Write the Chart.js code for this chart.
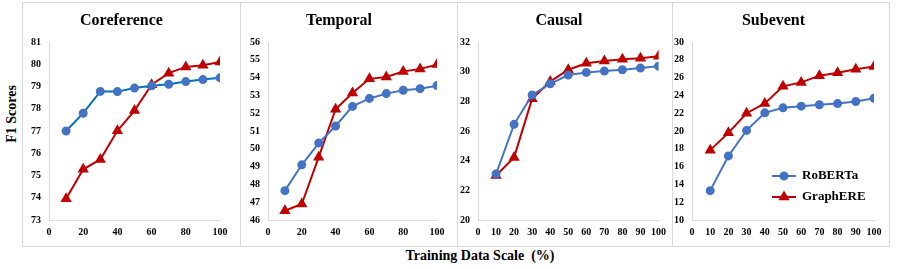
<!DOCTYPE html>
<html>
<head>
<meta charset="utf-8">
<script src="https://cdn.jsdelivr.net/npm/chart.js@4.4.1/dist/chart.umd.min.js"></script>
<style>
  body { margin: 0; background: #fff; width: 899px; height: 269px; position: relative; overflow: hidden; font-family: "Liberation Serif", "Times New Roman", serif; }
  .panel { position: absolute; top: 2px; height: 245px; border: 1px solid #d9d9d9; box-sizing: border-box; }
  .panel canvas { display: block; }
  #ytitle { position: absolute; left: 12px; top: 114px; transform: translate(-50%, -50%) rotate(-90deg); font-weight: bold; font-size: 14px; white-space: nowrap; }
  #xtitle { position: absolute; left: 480px; top: 256px; transform: translate(-50%, -50%); font-weight: bold; font-size: 14px; white-space: pre; }
</style>
</head>
<body>
<div id="ytitle">F1 Scores</div>
<div id="xtitle">Training Data Scale  (%)</div>

<div class="panel" style="left:22px;width:219px"><canvas id="c0"></canvas></div>
<div class="panel" style="left:240px;width:218px"><canvas id="c1"></canvas></div>
<div class="panel" style="left:457px;width:216px"><canvas id="c2"></canvas></div>
<div class="panel" style="left:672px;width:218px"><canvas id="c3"></canvas></div>

<script>
// training data scale (%)
const scales = [10, 20, 30, 40, 50, 60, 70, 80, 90, 100];
const seriesNames = ["RoBERTa", "GraphERE"];
const taskNames = ["Coreference", "Temporal", "Causal", "Subevent"];

// F1 per task
const corefRoberta = [77.0, 77.8, 78.78, 78.77, 78.93, 79.03, 79.1, 79.22, 79.31, 79.39];
const corefGraph   = [73.95, 75.28, 75.72, 77.01, 77.92, 79.08, 79.6, 79.88, 79.96, 80.1];
const tempRoberta  = [47.65, 49.1, 50.32, 51.28, 52.38, 52.83, 53.1, 53.29, 53.38, 53.55];
const tempGraph    = [46.52, 46.9, 49.53, 52.22, 53.13, 53.93, 54.03, 54.34, 54.49, 54.73];
const causRoberta  = [23.1, 26.45, 28.43, 29.18, 29.77, 29.95, 30.04, 30.13, 30.24, 30.37];
const causGraph    = [23.0, 24.22, 28.18, 29.33, 30.13, 30.57, 30.72, 30.84, 30.91, 31.04];
const subRoberta   = [13.3, 17.2, 20.07, 22.04, 22.6, 22.79, 22.95, 23.08, 23.31, 23.68];
const subGraph     = [17.85, 19.79, 22.0, 23.1, 25.02, 25.46, 26.22, 26.54, 26.95, 27.25];

// y tick ranges
const yMins  = [73, 46, 20, 10];
const yMaxs  = [81, 56, 32, 30];
const ySteps = [1, 1, 2, 2];

const robertaData = [corefRoberta, tempRoberta, causRoberta, subRoberta];
const graphData = [corefGraph, tempGraph, causGraph, subGraph];

// layout per panel (px)
const canvasW = [217, 216, 214, 216];
const axisW = [26, 27, 20, 19];
const padRight = [20, 20, 12, 15];

const FONT = '"Liberation Serif", "Times New Roman", serif';
const BLUE = "#4472C4";
const RED = "#C00000";

Chart.defaults.font.family = FONT;

const toPoints = (arr) => arr.map((v, i) => ({ x: scales[i], y: v }));

const legendPlugin = {
  id: "insideLegend",
  afterDraw(chart) {
    const ctx = chart.ctx;
    const a = chart.chartArea;
    const x0 = a.left + 80, x1 = a.left + 104;
    const rows = [a.top + 134, a.top + 155];
    chart.data.datasets.forEach((ds, i) => {
      const y = rows[i];
      ctx.save();
      ctx.strokeStyle = ds.borderColor;
      ctx.lineWidth = 2;
      ctx.beginPath();
      ctx.moveTo(x0, y);
      ctx.lineTo(x1, y);
      ctx.stroke();
      ctx.fillStyle = ds.pointBackgroundColor;
      ctx.strokeStyle = ds.pointBorderColor;
      Chart.helpers.drawPoint(ctx, { pointStyle: ds.pointStyle, radius: ds.pointRadius, borderWidth: 1, rotation: 0 }, (x0 + x1) / 2, y);
      ctx.fillStyle = "#000";
      ctx.font = "bold 13px " + FONT;
      ctx.textBaseline = "middle";
      ctx.textAlign = "left";
      ctx.fillText(ds.label, x1 + 6, y);
      ctx.restore();
    });
  }
};

function drawAll() {
  taskNames.forEach((name, k) => {
    const cv = document.getElementById("c" + k);
    cv.width = canvasW[k];
    cv.height = 243;
    cv.style.width = canvasW[k] + "px";
    cv.style.height = "243px";

    new Chart(cv.getContext("2d"), {
      type: "line",
      data: {
        datasets: [
          {
            label: seriesNames[0],
            data: toPoints(robertaData[k]),
            borderColor: k === 0 ? "#0070C0" : BLUE,
            backgroundColor: BLUE,
            pointBackgroundColor: BLUE,
            pointBorderColor: BLUE,
            pointStyle: "circle",
            pointRadius: 3.5,
            borderWidth: 2,
          },
          {
            label: seriesNames[1],
            data: toPoints(graphData[k]),
            borderColor: RED,
            backgroundColor: RED,
            pointBackgroundColor: RED,
            pointBorderColor: RED,
            pointStyle: "triangle",
            pointRadius: 4.5,
            borderWidth: 2,
          },
        ],
      },
      options: {
        responsive: false,
        animation: false,
        devicePixelRatio: 1,
        layout: { padding: { left: 0, right: padRight[k], top: 0, bottom: 0 } },
        plugins: {
          legend: { display: false },
          tooltip: { enabled: false },
          title: {
            display: true,
            text: name,
            color: "#000",
            font: { family: FONT, size: 16, weight: "bold", lineHeight: 1.2 },
            padding: { top: 8, bottom: 11.8 },
          },
        },
        scales: {
          x: {
            type: "linear",
            min: 0,
            max: 100,
            ticks: { stepSize: 10, color: "#000", font: { family: FONT, size: 10, weight: "bold" }, padding: 6, maxRotation: 0 },
            grid: { display: false, drawTicks: false },
            border: { display: true, color: "#d9d9d9", width: 1 },
            afterFit: (s) => { s.height = 26; },
          },
          y: {
            min: yMins[k],
            max: yMaxs[k],
            ticks: { stepSize: ySteps[k], color: "#000", font: { family: FONT, size: 10, weight: "bold" }, padding: 8 },
            grid: { display: false, drawTicks: false },
            border: { display: true, color: "#d9d9d9", width: 1 },
            afterFit: (s) => { s.width = axisW[k]; },
          },
        },
      },
      plugins: k === 3 ? [legendPlugin] : [],
    });
  });
}

// make sure the serif face is ready before the canvases use it
document.fonts.load('bold 16px "Liberation Serif"').then(drawAll, drawAll);
</script>
</body>
</html>
